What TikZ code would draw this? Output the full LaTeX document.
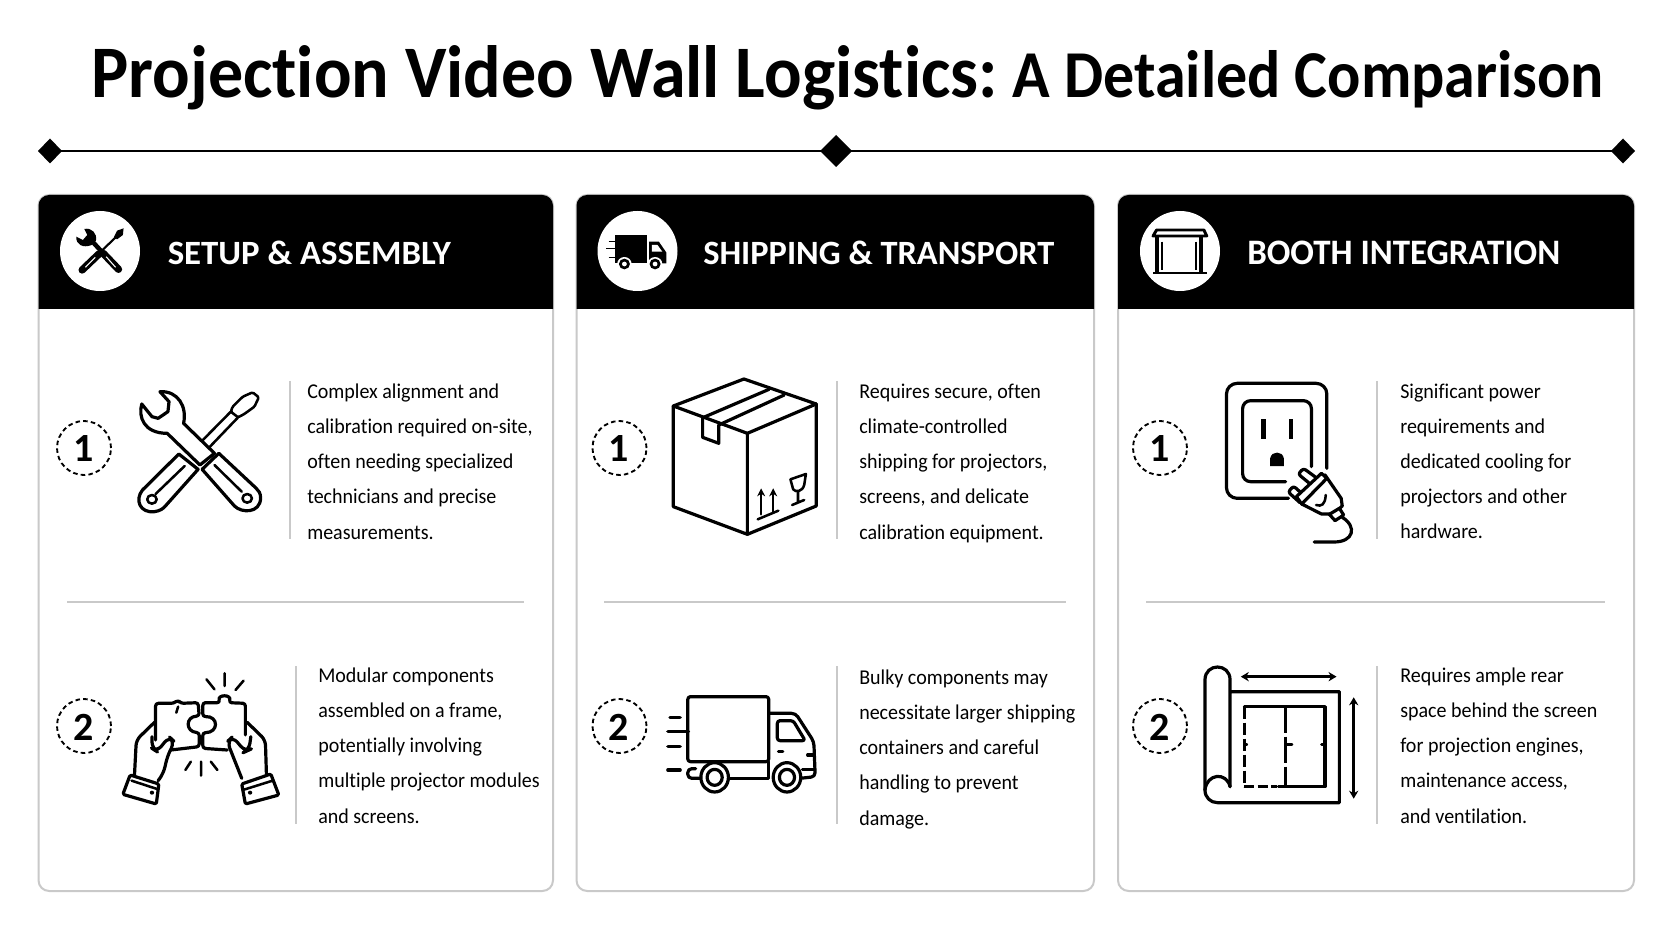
\documentclass[tikz,border=0pt]{standalone}
\usepackage{fontspec}
\usepackage{graphicx}
\usetikzlibrary{arrows.meta}
\setmainfont{Carlito}[FakeStretch=0.95,RawFeature=-liga]
\newfontfamily\headfont{Carlito}[RawFeature=-liga]
\newdimen\pxu \pxu=0.75pt
\newcommand\fitbox[3]{\resizebox{#1\pxu}{#2\pxu}{#3}}
\tikzset{
  cardedge/.style={draw=cardgray,line width=1.5pt,fill=white,rounded corners=8pt},
  sepline/.style={draw=cardgray,line width=1.6pt},
  bodytext/.style={anchor=north west,inner sep=0pt,align=left,font=\fontsize{15.8}{26.4}\selectfont,execute at begin node={\rule{0pt}{15pt}}},
  headtext/.style={anchor=base west,inner sep=0pt,text=white,font=\headfont\bfseries\fontsize{26}{30}\selectfont},
  numdisc/.style={circle,draw=black,line width=1.4pt,dash pattern=on 3.4pt off 2.4pt,minimum size=40.5pt,inner sep=0pt},
  numtext/.style={font=\headfont\bfseries\fontsize{30}{30}\selectfont},
  hdisc/.style={circle,fill=white,minimum size=60pt,inner sep=0pt},
  ic/.style={draw=black,line width=2.4pt,line join=round,line cap=round},
  icn/.style={draw=black,line width=1.9pt,line join=round,line cap=round},
  za/.style={shift={(0,180)},x=0.27263pt,y=-0.25pt},
  zb/.style={shift={(0,560)},x=0.27263pt,y=-0.25pt},
  zc/.style={shift={(570,180)},x=0.2583pt,y=-0.25pt},
  zd/.style={shift={(570,560)},x=0.2583pt,y=-0.25pt},
  ze/.style={shift={(1110,180)},x=0.2688pt,y=-0.25pt},
  zf/.style={shift={(1110,560)},x=0.2688pt,y=-0.25pt},
}
\definecolor{cardgray}{HTML}{C9C9C9}
\begin{document}
\begin{tikzpicture}[x=0.75pt,y=-0.75pt]
\useasboundingbox (0,0) rectangle (1672,941);
\fill[white] (0,0) rectangle (1672,941);
% title
\node[anchor=base west,inner sep=0pt] (title) at (91,98) {\headfont\bfseries\fitbox{906}{52}{Projection Video Wall Logistics:}\hspace{15\pxu}\fitbox{591.5}{47}{A Detailed Comparison}};
% rule with diamonds
\coordinate (ruleL) at (50,151);
\coordinate (ruleM) at (836,151);
\coordinate (ruleR) at (1623,151);
\draw[line width=2.2pt,black] (ruleL) -- (ruleR);
\fill[black] (38,151)--(50,138.5)--(62,151)--(50,163.5)--cycle;
\fill[black] (820,151)--(836,135)--(852,151)--(836,167)--cycle;
\fill[black] (1611,151)--(1623,138.5)--(1635,151)--(1623,163.5)--cycle;
% cards
\foreach \l/\r in {38.5/553,576.5/1094,1118/1634}{
  \draw[cardedge] (\l,195) rectangle (\r,891);
  \fill[black] (\l,309) [rounded corners=8pt] -- (\l,195) -- (\r,195) [sharp corners] -- (\r,309) -- cycle;
}
% header discs
\node[hdisc] (h1) at (100,251) {};
\node[hdisc] (h2) at (637.5,251) {};
\node[hdisc] (h3) at (1180,251) {};
% header texts
\node[headtext] (ht1) at (167.5,265) {\fitbox{283}{23.5}{SETUP \& ASSEMBLY}};
\node[headtext] (ht2) at (703,265) {\fitbox{351}{23.5}{SHIPPING \& TRANSPORT}};
\node[headtext] (ht3) at (1247,265) {\fitbox{313}{23.5}{BOOTH INTEGRATION}};
% dividers
\draw[sepline] (67,602) -- (524,602);
\draw[sepline] (604,602) -- (1066,602);
\draw[sepline] (1146,602) -- (1605,602);
\foreach \x/\a/\b in {290/381/539,296/666/824,837/381/539,837/666/824,1377/381/539,1377/666/824}{
  \draw[sepline] (\x,\a) -- (\x,\b);
}
% numbers
\node[numdisc] (n11) at (84,448) {};
\node[numtext] (t11) at (84,449) {1};
\node[numdisc] (n12) at (84,726) {};
\node[numtext] (t12) at (84,727) {2};
\node[numdisc] (n21) at (619.5,448) {};
\node[numtext] (t21) at (619,449) {1};
\node[numdisc] (n22) at (619.5,726) {};
\node[numtext] (t22) at (619,727) {2};
\node[numdisc] (n31) at (1160,448) {};
\node[numtext] (t31) at (1160,449) {1};
\node[numdisc] (n32) at (1160,726) {};
\node[numtext] (t32) at (1160,727) {2};
% body
\node[bodytext] (b11) at (307,383.4) {Complex alignment and\\calibration required on-site,\\often needing specialized\\technicians and precise\\measurements.};
\node[bodytext] (b12) at (318,667.5) {Modular components\\assembled on a frame,\\potentially involving\\multiple projector modules\\and screens.};
\node[bodytext] (b21) at (859,383.5) {Requires secure, often\\climate-controlled\\shipping for projectors,\\screens, and delicate\\calibration equipment.};
\node[bodytext] (b22) at (859,669.4) {Bulky components may\\necessitate larger shipping\\containers and careful\\handling to prevent\\damage.};
\node[bodytext] (b31) at (1400,383.4) {Significant power\\requirements and\\dedicated cooling for\\projectors and other\\hardware.};
\node[bodytext] (b32) at (1400,667.5) {Requires ample rear\\space behind the screen\\for projection engines,\\maintenance access,\\and ventilation.};

% ---- tools icon
\begin{scope}[za]
  \draw[icn,fill=white,rounded corners=1pt] (635,695)--(640,680)--(668,650)--(695,637)--(712,652)--(700,680)--(672,702)--(655,712)--cycle;
  \draw[icn] (635,695)--(540,800) (655,712)--(560,820);
  \draw[ic,fill=white] (492,822)--(392,930) .. controls (370,960) and (385,1000) .. (425,995) .. controls (440,993) and (450,985) .. (455,978) -- (545,868) -- cycle;
  \draw[icn] (508,858)--(428,942);
  \draw[icn] (418,958) circle [x radius=13,y radius=13];
  \draw[ic,fill=white] (460,760) -- (550,855) -- (590,820) -- (505,730) .. controls (515,680) and (490,632) .. (440,635) -- (465,665) -- (462,695) -- (435,715) -- (418,710) -- (390,672) .. controls (380,710) and (395,760) .. (460,760) -- cycle;
  \draw[ic,fill=white] (556,868)--(645,978) .. controls (665,1000) and (715,1000) .. (717,955) .. controls (717,940) and (712,932) .. (705,925) -- (602,820) -- cycle;
  \draw[icn] (590,855)--(665,935);
  \draw[icn] (680,955) circle [x radius=13,y radius=13];
\end{scope}
% ---- header tools
\begin{scope}[za]
  \draw[black,line width=1.6pt,line cap=round] (325,165)--(280,212);
  \fill[black] (322,152)--(340,145)--(338,165)--(322,178)--(314,170)--cycle;
  \draw[black,line width=5.5pt,line cap=round] (272,222)--(226,270);
  \draw[black,line width=3.4pt,line cap=round] (252,182)--(284,220);
  \draw[black,line width=5.5pt,line cap=round] (284,220)--(326,268);
  \fill[black] (210,170) .. controls (208,195) and (230,205) .. (252,195) -- (264,182) .. controls (268,160) and (252,142) .. (232,147) -- (240,165) -- (228,180) -- cycle;
  \draw[white,line width=.8pt] (235,262)--(262,232) (292,230)--(318,262);
\end{scope}

% ---- puzzle hands
\begin{scope}[zb]
  \draw[ic,rounded corners=2pt] (428,540)--(428,430)--(478,430)--(490,420)--(497,430)--(545,428)--(548,468) .. controls (510,470) and (510,515) .. (548,518) -- (548,560)--(470,570);
  \draw[ic,rounded corners=2pt] (625,570)--(558,565)--(558,518) .. controls (602,518) and (602,468) .. (558,470) -- (558,428)--(605,428) .. controls (598,403) and (637,403) .. (630,428) -- (675,430)--(675,525);
  \draw[icn] (490,440)--(485,458);
  % left hand
  \draw[ic,rounded corners=4pt] (425,487)--(375,540)--(370,645);
  \draw[ic,rounded corners=5pt] (418,530)--(418,565)--(432,575)--(465,530)--(480,545)--(460,590)--(450,640)--(435,662);
  \draw[ic,rounded corners=1pt] (358,645)--(437,672)--(430,732)--(338,703)--cycle;
  \draw[icn] (362,662)--(435,688);
  \fill[black] (418,698) circle [x radius=6,y radius=6];
  % right hand
  \draw[ic,rounded corners=4pt] (680,487)--(730,540)--(733,645);
  \draw[ic,rounded corners=5pt] (690,530)--(685,570)--(675,575)--(640,530)--(625,545)--(645,600)--(665,655);
  \draw[ic,rounded corners=1pt] (665,672)--(745,642)--(767,705)--(675,732)--cycle;
  \draw[icn] (668,690)--(750,662);
  \fill[black] (688,698) circle [x radius=6,y radius=6];
  % sparks
  \draw[icn] (618,340)--(618,378) (568,358)--(590,388) (670,362)--(648,390) (553,605)--(553,647) (525,605)--(510,630) (580,605)--(598,630);
\end{scope}

% ---- box
\begin{scope}[zc]
  \draw[ic] (300,678)--(505,597)--(715,672)--(515,760)--cycle;
  \draw[ic] (300,678)--(300,980)--(515,1063)--(515,760);
  \draw[ic] (715,672)--(715,978)--(515,1063);
  \draw[ic] (388,712)--(578,628) (432,735)--(622,645);
  \draw[ic] (385,712)--(385,772)--(432,790)--(432,735);
  \draw[icn,-{Stealth[length=6pt,width=6pt]}] (555,1003)--(555,925);
  \draw[icn,-{Stealth[length=6pt,width=6pt]}] (590,995)--(590,925);
  \draw[icn] (545,1018)--(605,992);
  \draw[icn] (640,898)--(685,882)--(680,915) .. controls (675,935) and (655,938) .. (648,928) -- cycle;
  \draw[icn] (662,934)--(662,968) (645,975)--(680,960);
\end{scope}
% ---- header truck
\begin{scope}[zc]
  \fill[black] (130,165) rectangle (225,250);
  \fill[black] (230,185)--(258,185)--(280,218)--(280,250)--(230,250)--cycle;
  \fill[white] (238,195)--(254,195)--(268,215)--(238,215)--cycle;
  \draw[black,line width=1pt] (112,185)--(130,185) (105,205)--(130,205) (112,232)--(130,232);
  \foreach \cx in {158,247}{
    \fill[white] (\cx,252) circle [x radius=21,y radius=21];
    \fill[black] (\cx,252) circle [x radius=16,y radius=16];
    \fill[white] (\cx,252) circle [x radius=7,y radius=7];
  }
\end{scope}

% ---- truck
\begin{scope}[zd]
  \draw[ic,rounded corners=2pt] (342,410) rectangle (577,605);
  \draw[ic,rounded corners=3pt] (577,460)--(655,460)--(708,545)--(712,650)--(668,655);
  \draw[ic] (577,605)--(577,655)--(462,655);
  \draw[ic,rounded corners=3pt] (365,626)--(342,626)--(342,655)--(378,655);
  \draw[ic,rounded corners=2pt] (602,482)--(648,482)--(683,542)--(602,542)--cycle;
  \draw[ic] (605,575)--(618,575) (690,585)--(706,585) (675,628)--(710,628);
  \draw[ic] (290,473)--(320,473) (284,515)--(344,515) (284,560)--(320,560) (284,630)--(320,630);
  \foreach \cx in {420,630}{
    \draw[ic,fill=white] (\cx,652) circle [x radius=40,y radius=44];
    \draw[ic] (\cx,652) circle [x radius=22,y radius=24];
  }
\end{scope}

% ---- outlet
\begin{scope}[ze]
  \draw[ic,rounded corners=8pt] (605,865)--(605,610)--(325,610)--(325,955)--(498,955);
  \draw[ic,rounded corners=6pt] (562,860)--(562,662)--(370,662)--(370,905)--(490,905);
  \draw[black,line width=3.5pt] (428,718)--(428,778) (505,718)--(505,778);
  \fill[black] (447,858) -- (447,835) .. controls (450,812) and (482,812) .. (485,835) -- (485,858) -- cycle;
  % plug
  \draw[ic,fill=white] (600,885)--(645,955)--(648,978)--(622,1002)--(590,1002)--(535,972) -- cycle;
  \draw[ic,rounded corners=2pt,fill=white] (578,895)--(540,865)--(525,882)--(562,915);
  \draw[ic,rounded corners=2pt,fill=white] (545,950)--(512,918)--(497,936)--(530,968);
  \draw[ic,fill=white] (520,950)--(590,880)--(605,895)--(535,972)--cycle;
  \draw[icn] (602,945) .. controls (600,975) and (590,980) .. (575,975);
  \draw[ic,fill=white] (612,1003)--(640,985)--(652,1005)--(628,1022)--cycle;
  \draw[ic] (648,1012) .. controls (690,1040) and (680,1086) .. (625,1086) -- (570,1086);
\end{scope}
% ---- header booth
\begin{scope}[ze]
  \draw[black,line width=2.2pt,line join=round,fill=white] (130,150)--(262,150)--(270,168)--(120,168)--cycle;
  \draw[black,line width=3pt] (130,170)--(130,278) (255,170)--(255,278);
  \draw[black,line width=1.3pt] (145,185)--(145,270) (240,185)--(240,270);
  \draw[black,line width=2.2pt] (120,279)--(270,279);
\end{scope}

% ---- blueprint
\begin{scope}[zf]
  \draw[ic] (335,395)--(640,395)--(640,728)--(300,728) .. controls (280,728) and (265,712) .. (265,690) -- (265,360) .. controls (265,308) and (335,308) .. (335,360) -- (335,680);
  \draw[ic] (265,690) .. controls (270,640) and (325,635) .. (335,680);
  \draw[ic] (375,440)--(600,440)--(600,680)--(470,680);
  \draw[ic,line cap=butt,dash pattern=on 9pt off 3pt] (375,440)--(375,680);
  \draw[ic,line cap=butt,dash pattern=on 20pt off 2.5pt] (490,440)--(490,680);
  \draw[ic,line cap=butt,dash pattern=on 7.5pt off 2.5pt] (375,680)--(465,680);
  \draw[icn] (375,553)--(382,553) (490,553)--(508,553) (590,553)--(600,553);
  \draw[icn,{Stealth[length=6pt,width=7pt]}-{Stealth[length=6pt,width=7pt]}] (365,350)--(632,350);
  \draw[icn,{Stealth[length=6pt,width=7pt]}-{Stealth[length=6pt,width=7pt]}] (680,412)--(680,716);
\end{scope}
\end{tikzpicture}
\end{document}
